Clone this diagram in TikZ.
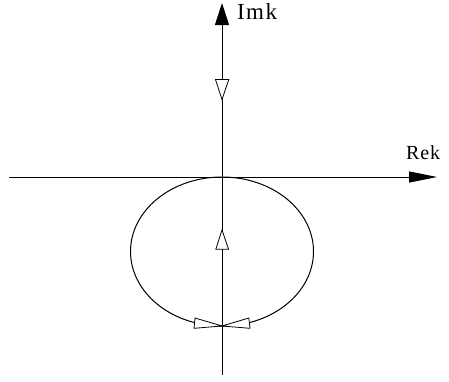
\documentclass[tikz,border=0pt]{standalone}
\usepackage{fontspec}
\setmainfont{Liberation Serif}
\usetikzlibrary{arrows.meta}
\begin{document}
\begin{tikzpicture}[x=1pt,y=-1pt,line width=1pt,
  axis/.style={draw=black},
  opentri/.style={draw=black,fill=white,line width=0.8pt,line join=miter},
  lbl/.style={inner sep=0pt,anchor=base west}]
\useasboundingbox (0,0) rectangle (449,381);
\coordinate (top) at (222,3);
\coordinate (bot) at (222,375);
\coordinate (left) at (9,177);
\coordinate (right) at (437,177);
\draw[axis,-{Triangle[length=22pt,width=14pt]}] (bot) -- (top);
\draw[axis,-{Triangle[length=28pt,width=11pt]}] (left) -- (right);
\draw (222,251.5) ellipse [x radius=91.5, y radius=74.5];
% open triangles
\draw[opentri] (215.5,79.5) -- (228.8,79.5) -- (222,99.5) -- cycle;
\draw[opentri] (215.8,249.3) -- (228.6,249.3) -- (222,230) -- cycle;
\draw[opentri] (195,318) -- (194,328.3) -- (222,326) -- cycle;
\draw[opentri] (248.8,318) -- (250,328.3) -- (222,326) -- cycle;
\node[lbl,font=\fontsize{23}{27}\selectfont] (im) at (236.5,19.3) {I\kern1.5pt m\kern1.5pt k};
\node[lbl,font=\fontsize{20}{24}\selectfont] (re) at (405.5,159.3) {R\kern1pt e\kern1pt k};
\end{tikzpicture}
\end{document}
